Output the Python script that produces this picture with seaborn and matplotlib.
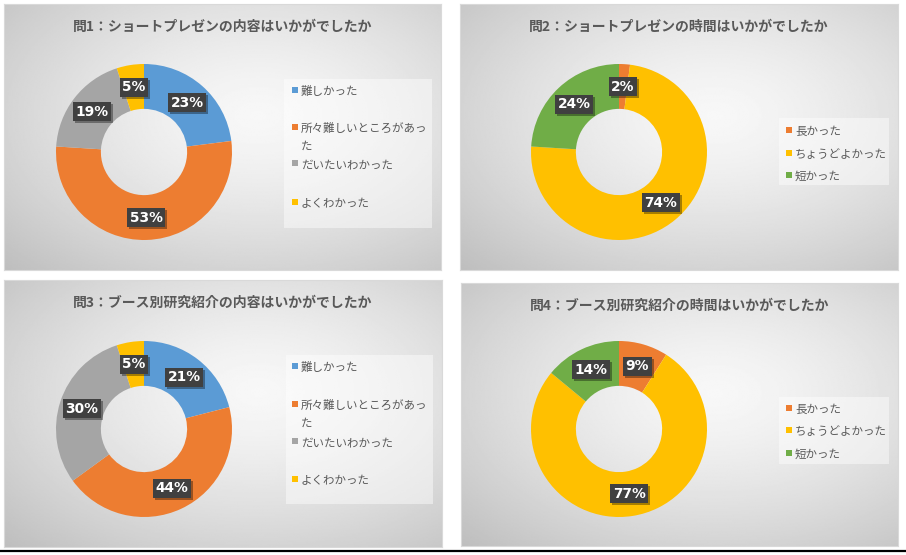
import numpy as np
import seaborn as sns
import matplotlib.pyplot as plt
import matplotlib.patheffects as pe
from matplotlib.patches import Rectangle

# --- data ---
titles = [
    "問1：ショートプレゼンの内容はいかがでしたか",
    "問2：ショートプレゼンの時間はいかがでしたか",
    "問3：ブース別研究紹介の内容はいかがでしたか",
    "問4：ブース別研究紹介の時間はいかがでしたか",
]
content_labels = ["難しかった", "所々難しいところがあっ\nた", "だいたいわかった", "よくわかった"]
time_labels = ["長かった", "ちょうどよかった", "短かった"]
q1_values = [23, 53, 19, 5]
q2_values = [2, 74, 24]
q3_values = [21, 44, 30, 5]
q4_values = [9, 77, 14]

content_colors = sns.color_palette(["#5B9BD5", "#ED7D31", "#A5A5A5", "#FFC000"])
time_colors = sns.color_palette(["#ED7D31", "#FFC000", "#70AD47"])

sns.set_theme(style="white")
plt.rcParams['font.family'] = ['Noto Sans CJK JP', 'DejaVu Sans']

W, H = 906, 555
fig = plt.figure(figsize=(W / 100, H / 100), dpi=100)
fig.patch.set_facecolor("white")


def fx(x):
    return x / W


def fy(y):
    return 1 - y / H


# panel layout in pixels (x0, y0, x1, y1), donut centre, legend box, legend rows
panels = [
    dict(box=(4, 4, 441, 270), c=(144, 152), leg=(284, 79, 432, 228), rows=[90, 127, 163, 202], sq=292),
    dict(box=(460, 4, 898, 270), c=(619, 152), leg=(779, 118, 889, 185), rows=[130, 153, 175], sq=786),
    dict(box=(4, 280, 442, 547), c=(144, 429), leg=(286, 355, 433, 504), rows=[366, 404, 441, 479], sq=292),
    dict(box=(461, 283, 898, 546), c=(619, 429), leg=(779, 397, 889, 464), rows=[408, 430, 453], sq=786),
]
values = [q1_values, q2_values, q3_values, q4_values]
labels = [content_labels, time_labels, content_labels, time_labels]
colors = [content_colors, time_colors, content_colors, time_colors]

R = 88
yy, xx = np.mgrid[0:1:200j, 0:1:300j]
dist = np.sqrt(((xx - 0.58) / 0.75) ** 2 + ((yy - 0.42) / 0.75) ** 2)
grad = np.clip(0.97 - 0.2 * dist ** 1.4, 0, 1)

for p, vals, labs, cols, title in zip(panels, values, labels, colors, titles):
    x0, y0, x1, y1 = p["box"]
    bg = fig.add_axes([fx(x0), fy(y1), (x1 - x0) / W, (y1 - y0) / H])
    bg.imshow(grad, cmap="gray", vmin=0, vmax=1, aspect="auto", extent=(0, 1, 0, 1))
    bg.set_xticks([])
    bg.set_yticks([])
    for s in bg.spines.values():
        s.set_color("#d9d9d9")
        s.set_linewidth(0.8)

    fig.text(fx((x0 + x1) / 2), fy(y0 + 23), title, ha="center", va="center",
             fontsize=10, fontweight="bold", color="#595959")

    cx, cy = p["c"]
    ax = fig.add_axes([fx(cx - R), fy(cy + R), 2 * R / W, 2 * R / H])
    wedges, _, autotexts = ax.pie(
        vals, colors=cols, startangle=90, counterclock=False, radius=1,
        wedgeprops=dict(width=0.51, linewidth=0),
        autopct=lambda v: f"{v:.0f}%", pctdistance=0.745,
        textprops=dict(color="white", fontsize=9.9, fontweight="bold", family="DejaVu Sans"))
    ax.set_xlim(-1, 1)
    ax.set_ylim(-1, 1)
    ax.axis("off")
    for t in autotexts:
        t.set_bbox(dict(boxstyle="square,pad=0.18", fc="#404040", ec="none"))
        t.get_bbox_patch().set_path_effects(
            [pe.withSimplePatchShadow(offset=(1.5, -1.5), shadow_rgbFace="black", alpha=0.35)])

    lx0, ly0, lx1, ly1 = p["leg"]
    fig.add_artist(Rectangle((fx(lx0), fy(ly1)), (lx1 - lx0) / W, (ly1 - ly0) / H,
                             transform=fig.transFigure, facecolor="white", alpha=0.45,
                             edgecolor="none"))
    sq = 6
    for lab, col, ry in zip(labs, cols, p["rows"]):
        fig.add_artist(Rectangle((fx(p["sq"]), fy(ry + sq / 2)), sq / W, sq / H,
                                 transform=fig.transFigure, facecolor=col, edgecolor="none"))
        fig.text(fx(p["sq"] + 9), fy(ry - 5), lab, ha="left", va="top",
                 fontsize=8.3, color="#595959", linespacing=1.5)

fig.add_artist(plt.Line2D([0, 1], [fy(551), fy(551)], transform=fig.transFigure,
                          color="black", linewidth=1.6))

fig.savefig("out.png", dpi=100)
